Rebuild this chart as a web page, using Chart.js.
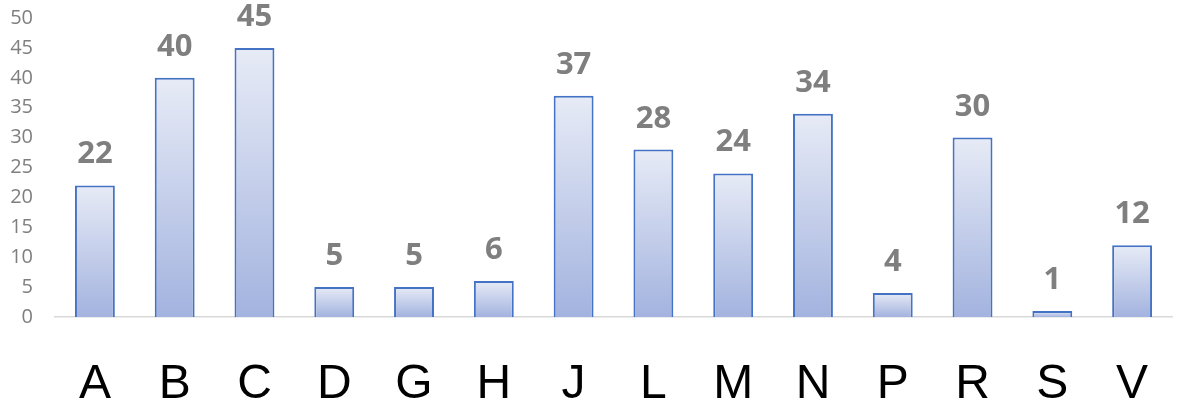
<!DOCTYPE html>
<html>
<head>
<meta charset="utf-8">
<script src="https://cdn.jsdelivr.net/npm/chart.js@4/dist/chart.umd.min.js"></script>
<style>
  html, body { margin: 0; padding: 0; background: #fff; overflow: hidden; }
  #wrap { width: 1178px; height: 410px; }
</style>
</head>
<body>
<div id="wrap"><canvas id="chart"></canvas></div>
<script>
const categories = ["A", "B", "C", "D", "G", "H", "J", "L", "M", "N", "P", "R", "S", "V"];
const counts = [22, 40, 45, 5, 5, 6, 37, 28, 24, 34, 4, 30, 1, 12];
const yTicks = [0, 5, 10, 15, 20, 25, 30, 35, 40, 45, 50];

// each bar gets its own light-to-dark gradient, top to bottom
const barGradient = (context) => {
  const chart = context.chart;
  const y = chart.scales.y;
  if (!y || context.dataIndex === undefined) return "#c5cfec";
  const top = y.getPixelForValue(context.raw);
  const bottom = y.getPixelForValue(0);
  if (!isFinite(top) || !isFinite(bottom) || top === bottom) return "#c5cfec";
  const g = chart.ctx.createLinearGradient(0, top, 0, bottom);
  g.addColorStop(0, "#e7ebf6");
  g.addColorStop(1, "#a3b3df");
  return g;
};

const valueLabels = {
  id: "valueLabels",
  afterDatasetsDraw(chart) {
    const ctx = chart.ctx;
    const meta = chart.getDatasetMeta(0);
    ctx.save();
    ctx.font = "bold 31px 'Open Sans', 'Liberation Sans', sans-serif";
    ctx.fillStyle = "#7f7f7f";
    ctx.textAlign = "center";
    ctx.textBaseline = "alphabetic";
    meta.data.forEach((bar, i) => {
      ctx.fillText(String(counts[i]), bar.x, bar.y - 22);
    });
    ctx.restore();
  }
};

new Chart(document.getElementById("chart"), {
  type: "bar",
  data: {
    labels: categories,
    datasets: [
      {
        data: counts,
        backgroundColor: barGradient,
        borderColor: "#4472c4",
        borderWidth: 2,
        borderSkipped: "bottom",
        barPercentage: 0.5,
        categoryPercentage: 1,
      },
    ],
  },
  options: {
    responsive: true,
    maintainAspectRatio: false,
    animation: false,
    layout: { padding: { top: 18, right: 6, left: 0, bottom: 0 } },
    plugins: {
      legend: { display: false },
      tooltip: { enabled: false },
    },
    scales: {
      x: {
        grid: { display: false, drawTicks: false },
        border: { display: true, color: "#d9d9d9", width: 1.5 },
        ticks: {
          color: "#000",
          font: { family: "'Liberation Sans', Arial, sans-serif", size: 48 },
          padding: 39,
        },
        afterFit: (scale) => {
          scale.height = 93;
          scale.paddingLeft = 0;
          scale.paddingRight = 0;
        },
      },
      y: {
        min: 0,
        max: 50,
        grid: { display: false, drawTicks: false },
        border: { display: false },
        afterBuildTicks: (scale) => { scale.ticks = yTicks.map((v) => ({ value: v })); },
        ticks: {
          color: "#7f7f7f",
          font: { family: "'Open Sans', 'Liberation Sans', sans-serif", size: 20 },
          padding: 22,
        },
        afterFit: (scale) => {
          scale.width = 55;
          scale.paddingTop = 0;
          scale.paddingBottom = 0;
        },
      },
    },
  },
  plugins: [valueLabels],
});
</script>
</body>
</html>
